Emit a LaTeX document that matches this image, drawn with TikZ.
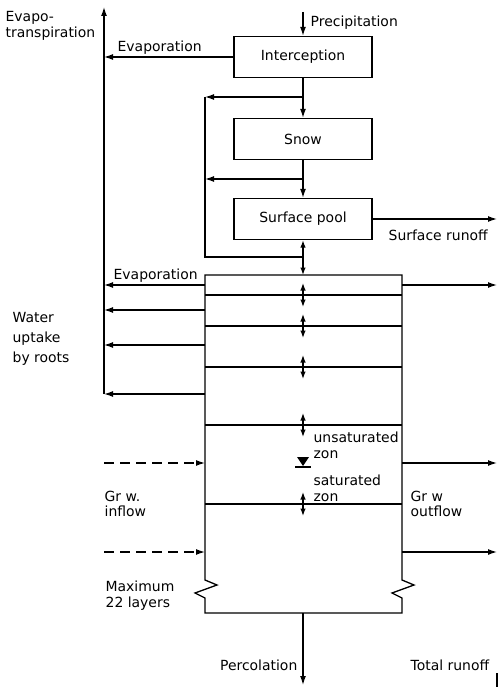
\documentclass[tikz,border=0pt]{standalone}
\usepackage{fontspec}
\setmainfont{DejaVu Sans}
\usetikzlibrary{arrows.meta}
\begin{document}
\begin{tikzpicture}[x=1bp,y=-1bp,line width=1.3bp,
  box/.style={draw, rectangle, minimum width=138bp, minimum height=41bp, inner sep=0pt, font=\fontsize{14}{16}\selectfont},
  flow/.style={-{Latex[length=9bp,width=6bp]}},
  both/.style={{Latex[length=7.5bp,width=5.5bp]}-{Latex[length=7.5bp,width=5.5bp]}},
  txt/.style={inner sep=0pt, anchor=base west, font=\fontsize{14}{16}\selectfont},
  multi/.style={inner sep=0pt, anchor=north west, align=left, font=\fontsize{14}{16}\selectfont}]
\useasboundingbox (0,0) rectangle (499,687);
\node[box] (icpt) at (303,57) {Interception};
\node[box] (snow) at (303,139) {Snow};
\node[box] (pool) at (303,219) {Surface pool};
\coordinate (rain) at (303,12);
\coordinate (etTop) at (104,7);
\coordinate (etBot) at (104,394);
\coordinate (byTop) at (205,97);
\coordinate (bySnow) at (205,179);
\coordinate (byBot) at (205,257);
\coordinate (soilTop) at (303,275);
\coordinate (soilBot) at (303,613);
\coordinate (runoff) at (497,219);
\coordinate (perc) at (303,685);
\coordinate (total) at (497,687);
\draw[flow] (rain) -- (icpt.north);
\draw[flow] (etBot) -- (etTop);
\draw[flow] (icpt.west) -- (icpt.west -| etTop);
\draw[flow] (icpt.south) -- (snow.north);
\draw[flow] (icpt.south |- byTop) -- (byTop);
\draw (byTop) -- (byBot) -- (byBot -| soilTop);
\draw[flow] (snow.south) -- (pool.north);
\draw[flow] (snow.south |- bySnow) -- (bySnow);
\draw[flow] (pool.east) -- (pool.east -| runoff);
\draw[both] (pool.south) -- (soilTop);
\draw (205,275) -- (402,275) -- (402,580) -- (414,585) -- (392,593) -- (402,598) -- (402,613)
  -- (205,613) -- (205,598) -- (195,593) -- (217,585) -- (205,580) -- cycle;
\foreach \y in {295,326,367,425,504} {
  \draw (205,\y) -- (402,\y);
  \draw[both] (303,\y-12) -- (303,\y+12);
}
\foreach \y in {285,310,345,394}
  \draw[flow] (205,\y) -- (104,\y);
\foreach \y in {285,463,552}
  \draw[flow] (402,\y) -- (497,\y);
\foreach \y in {463,552}
  \draw[flow, dash pattern=on 10bp off 6bp] (104,\y) -- (205,\y);
\fill (297,457) -- (309,457) -- (303,466) -- cycle;
\draw (295,467) -- (311,467);
\draw[flow] (soilBot) -- (perc);
\draw (total) -- (497,673);
\node[txt] (lPrecip) at (310,27) {Precipitation};
\node[txt] (lEvapTop) at (117,52) {Evaporation};
\node[multi] (lEvapotr) at (5,11) {Evapo-\\transpiration};
\node[txt] (lRunoff) at (388,240) {Surface runoff};
\node[txt] (lEvapSoil) at (113,279) {Evaporation};
\node[multi, font=\fontsize{14}{20}\selectfont] (lUptake) at (12,312) {Water\\uptake\\by roots};
\node[multi] (lUnsat) at (313,431) {unsaturated\\zon};
\node[multi] (lSat) at (313,474) {saturated\\zon};
\node[multi] (lInflow) at (104,490) {Gr w.\\inflow};
\node[multi] (lOutflow) at (410,490) {Gr w\\outflow};
\node[multi] (lMax) at (105,580) {Maximum\\22 layers};
\node[txt, anchor=base east] (lPerc) at (298,670) {Percolation};
\node[txt] (lTotal) at (410,670) {Total runoff};
\end{tikzpicture}
\end{document}
